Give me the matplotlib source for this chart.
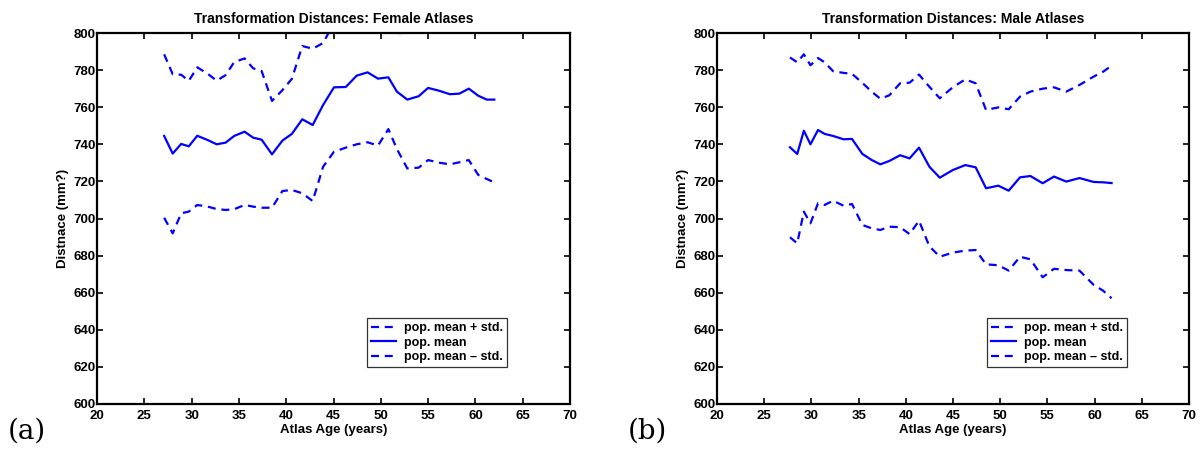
import matplotlib
matplotlib.use("Agg")
import matplotlib.pyplot as plt

# ---------------- data ----------------
female_age = [27.1, 28.0, 28.9, 29.7, 30.6, 31.7, 32.65, 33.6, 34.5, 35.6, 36.5, 37.4,
              38.5, 39.6, 40.6, 41.7, 42.8, 43.9, 45.05, 46.3, 47.45, 48.6, 49.7, 50.8,
              51.7, 52.8, 54.0, 55.0, 56.15, 57.3, 58.3, 59.3, 60.3, 61.2, 62.0]
female_mean = [744.5, 735.0, 740.2, 738.9, 744.6, 742.3, 740.0, 740.9, 744.5, 746.8, 743.6, 742.5,
               734.6, 742.0, 745.6, 753.5, 750.4, 761.2, 770.7, 770.9, 777.0, 778.8, 775.4, 776.1,
               768.4, 764.1, 765.9, 770.4, 768.9, 767.0, 767.3, 770.0, 766.2, 764.1, 764.1]
female_upper = [788.5, 777.8, 777.5, 774.2, 781.5, 778.0, 774.3, 777.3, 784.3, 786.3, 781.0, 779.5,
                763.4, 769.2, 775.3, 793.0, 791.5, 794.6, 805.4, 803.6, 814.0, 816.5, 811.5, 804.0,
                799.3, 801.2, 804.4, 809.3, 807.7, 804.8, 804.3, 808.5, 808.9, 806.9, 808.7]
female_lower = [700.4, 692.0, 702.8, 703.7, 707.3, 706.4, 705.1, 704.6, 705.0, 707.3, 706.4, 705.8,
                705.8, 714.8, 715.4, 713.6, 709.4, 727.9, 736.0, 738.2, 740.0, 741.1, 739.3, 748.2,
                737.5, 727.0, 727.4, 731.5, 730.1, 729.2, 730.3, 731.5, 723.5, 721.3, 719.5]

male_age = [27.73, 28.5, 29.2, 29.9, 30.7, 31.4, 32.3, 33.4, 34.3, 35.4, 36.4, 37.3, 38.25,
            39.4, 40.4, 41.4, 42.5, 43.6, 44.97, 46.3, 47.4, 48.5, 49.8, 50.9, 52.1, 53.2,
            54.5, 55.7, 57.0, 58.4, 59.9, 60.9, 61.8]
male_mean = [738.4, 734.8, 747.3, 740.0, 747.7, 745.6, 744.5, 742.7, 742.9, 734.8, 731.5, 729.2, 731.0,
             734.1, 732.4, 738.2, 727.9, 722.0, 726.1, 728.8, 727.6, 716.3, 717.7, 715.0, 722.2, 722.9,
             719.0, 722.6, 719.9, 721.8, 719.7, 719.5, 719.1]
male_upper = [786.8, 784.2, 788.5, 782.6, 786.5, 784.2, 779.4, 778.5, 778.0, 773.1, 768.3, 764.6, 766.4,
              772.9, 773.2, 777.6, 771.0, 764.8, 770.7, 775.0, 772.9, 758.5, 759.9, 758.9, 765.7, 768.4,
              770.0, 770.7, 768.4, 772.0, 776.5, 779.1, 782.4]
male_lower = [689.9, 686.6, 703.7, 697.4, 708.2, 707.3, 709.6, 706.9, 707.8, 696.5, 694.7, 693.8, 695.6,
              695.3, 691.6, 698.8, 685.0, 679.4, 681.6, 682.7, 683.0, 675.3, 674.8, 671.9, 679.4, 678.0,
              668.3, 672.9, 672.2, 671.9, 664.2, 661.1, 657.0]

titles = ["Transformation Distances: Female Atlases", "Transformation Distances: Male Atlases"]
panel_labels = ["(a)", "(b)"]
legend_labels = ["pop. mean + std.", "pop. mean", "pop. mean \u2013 std."]
x_ticks = [20, 25, 30, 35, 40, 45, 50, 55, 60, 65, 70]
y_ticks = [600, 620, 640, 660, 680, 700, 720, 740, 760, 780, 800]

# ---------------- style ----------------
plt.rcParams['font.family'] = ['Liberation Sans', 'DejaVu Sans']
plt.rcParams['font.weight'] = 'bold'
W, H = 1202, 449
fig = plt.figure(figsize=(W / 100, H / 100), dpi=100)

axes_px = [(97, 570), (717, 1189)]
legend_right_px = [507, 1127]
top_px, bot_px = 33, 404
blue = (0, 0, 1)
dash = (0, (3.6, 2.6))

series = [(female_age, female_mean, female_upper, female_lower),
          (male_age, male_mean, male_upper, male_lower)]

for i, (x0, x1) in enumerate(axes_px):
    ax = fig.add_axes([x0 / W, 1 - bot_px / H, (x1 - x0) / W, (bot_px - top_px) / H])
    age, mean, up, lo = series[i]
    l1, = ax.plot(age, up, color=blue, lw=1.6, linestyle=dash)
    l2, = ax.plot(age, mean, color=blue, lw=1.6)
    l3, = ax.plot(age, lo, color=blue, lw=1.6, linestyle=dash)
    ax.set_xlim(20, 70)
    ax.set_ylim(600, 800)
    ax.set_xticks(x_ticks)
    ax.set_yticks(y_ticks)
    ax.tick_params(direction='in', length=4, width=1.2, top=True, right=True,
                   labelsize=9.5)
    ax.tick_params(axis='x', pad=4.5)
    ax.tick_params(axis='y', pad=1)
    for lab in ax.get_xticklabels() + ax.get_yticklabels():
        lab.set_fontweight('bold')
    for sp in ax.spines.values():
        sp.set_linewidth(1.6)
    ax.set_title(titles[i], fontsize=10, fontweight='bold', pad=7)
    ax.set_xlabel("Atlas Age (years)", fontsize=9.5, fontweight='bold', labelpad=1)
    ax.set_ylabel("Distnace (mm?)", fontsize=9.5, fontweight='bold', labelpad=3)
    leg = ax.legend([l1, l2, l3], legend_labels, loc='lower right',
                    bbox_to_anchor=((legend_right_px[i] - x0) / (x1 - x0), 0.1),
                    fontsize=9, frameon=True, fancybox=False, handlelength=2.0,
                    handletextpad=0.7, borderpad=0.3, labelspacing=0.2, borderaxespad=0)
    leg.get_frame().set_edgecolor('black')
    leg.get_frame().set_linewidth(0.9)
    for t in leg.get_texts():
        t.set_fontweight('bold')
    fig.text((x0 - 89) / W, 1 - 431 / H, panel_labels[i], fontsize=20,
             family='DejaVu Serif', va='center', ha='left', fontweight='normal')

fig.savefig("out.png", dpi=100)
